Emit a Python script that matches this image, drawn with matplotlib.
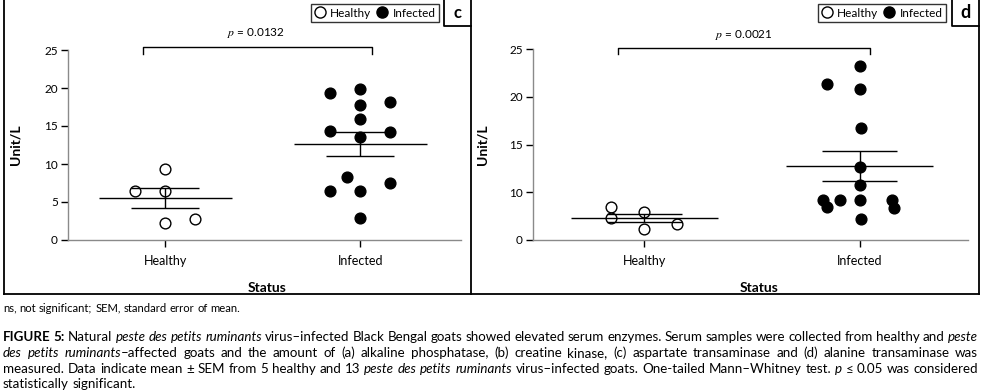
import matplotlib
matplotlib.use("Agg")
import matplotlib.pyplot as plt
from matplotlib.lines import Line2D
import numpy as np

plt.rcParams['font.family'] = ['Lato', 'DejaVu Sans']
plt.rcParams['mathtext.fontset'] = 'stix'

W, H = 991, 392

groups = ["Healthy", "Infected"]

# (c) aspartate transaminase, Unit/L
c_healthy = [9.4, 6.4, 6.5, 2.3, 2.8]
c_infected = [19.9, 19.3, 18.2, 17.8, 15.9, 14.4, 14.2, 13.6, 8.3, 7.5, 6.4, 6.4, 2.9]
c_pvalue = "0.0132"
c_yticks = [0, 5, 10, 15, 20, 25]
c_yticklabels = ["0", "5", "10", "15", "20", "25"]

# (d) alanine transaminase, Unit/L (axis starts at 5 but is labelled 0)
d_healthy = [8.5, 7.3, 7.9, 6.1, 6.7]
d_infected = [23.2, 21.3, 20.8, 16.7, 12.6, 10.8, 9.2, 8.5, 9.2, 9.2, 9.2, 8.4, 7.2]
d_pvalue = "0.0021"
d_yticks = [5, 10, 15, 20, 25]
d_yticklabels = ["0", "10", "15", "20", "25"]

# column slot of each dot in the scatter (in dot spacings)
c_healthy_slot = [0, -1, 0, 0, 1]
c_infected_slot = [0, -1, 1, 0, 0, -1, 1, 0, -0.45, 1, -1, 0, 0]
d_healthy_slot = [-1, -1, 0, 0, 1]
d_infected_slot = [0, -1, 0, 0.05, 0, 0, -1.1, -1, -0.6, 0, 1, 1.05, 0.05]

caption_note = "ns, not significant; SEM, standard error of mean."
caption_lines = [
    [("FIGURE 5:", "b"), (" Natural ", "n"), ("peste des petits ruminants", "i"),
     (" virus–infected Black Bengal goats showed elevated serum enzymes. Serum samples were collected from healthy and ", "n"),
     ("peste", "i")],
    [("des petits ruminants", "i"),
     ("–affected goats and the amount of (a) alkaline phosphatase, (b) creatine kinase, (c) aspartate transaminase and (d) alanine transaminase was", "n")],
    [("measured. Data indicate mean ± SEM from 5 healthy and 13 ", "n"), ("peste des petits ruminants", "i"),
     (" virus–infected goats. One-tailed Mann–Whitney test. ", "n"), ("p", "i"), (" ≤ 0.05 was considered", "n")],
    [("statistically significant.", "n")],
]

STEP = 0.153
SPINE = '#8a8a8a'


def px_axes(x0, y0, x1, y1):
    return [x0 / W, 1 - y1 / H, (x1 - x0) / W, (y1 - y0) / H]


def panel(ax, healthy, infected, slot_h, slot_i, pvalue, xlim, ylim, yticks, yticklabels,
          bracket, ptext_xy, ylabel_x, xlabel_x):
    for i, (vals, slots) in enumerate([(healthy, slot_h), (infected, slot_i)]):
        vals = np.asarray(vals, dtype=float)
        x = i + STEP * np.asarray(slots)
        face = 'white' if i == 0 else 'black'
        ax.scatter(x, vals, s=60, facecolor=face, edgecolor='black', linewidth=1.0, zorder=3, clip_on=False)
        m = vals.mean()
        se = vals.std(ddof=1) / np.sqrt(len(vals))
        ax.hlines(m, i - 0.34, i + 0.34, color='black', lw=1.0, zorder=4)
        ax.hlines([m - se, m + se], i - 0.175, i + 0.175, color='black', lw=1.0, zorder=4)
        ax.vlines(i, m - se, m + se, color='black', lw=1.0, zorder=4)

    ax.set_xlim(*xlim)
    ax.set_ylim(*ylim)
    ax.set_xticks([0, 1])
    ax.set_xticklabels(groups, fontsize=9)
    ax.set_yticks(yticks)
    ax.set_yticklabels(yticklabels, fontsize=8.5)
    for s in ['top', 'right']:
        ax.spines[s].set_visible(False)
    for s in ['left', 'bottom']:
        ax.spines[s].set_color(SPINE)
        ax.spines[s].set_linewidth(1.0)
    ax.tick_params(axis='y', length=5, width=1, color='black', pad=2.5)
    ax.tick_params(axis='x', length=5, width=1, color='black', pad=6)
    ax.set_ylabel("Unit/L", fontsize=10, fontweight='bold')
    ax.yaxis.set_label_coords(ylabel_x, 0.5)
    ax.set_xlabel("Status", fontsize=10, fontweight='bold')
    ax.xaxis.set_label_coords(xlabel_x, -0.22)

    x0, x1, y_lo, y_hi = bracket
    ax.plot([x0, x0, x1, x1], [y_lo, y_hi, y_hi, y_lo], color='black', lw=1.0, clip_on=False)
    ax.text(ptext_xy[0], ptext_xy[1], r"$p$ = " + pvalue, ha='center', va='center',
            fontsize=8.5, clip_on=False)


fig = plt.figure(figsize=(W / 100, H / 100), dpi=100)

ax_c = fig.add_axes(px_axes(68.3, 50, 461, 240))
panel(ax_c, c_healthy, c_infected, c_healthy_slot, c_infected_slot, c_pvalue,
      (-0.497, 1.516), (0, 25), c_yticks, c_yticklabels,
      (-0.116, 1.06, 24.47, 25.36), (0.467, 27.2), -0.118, 0.506)

ax_d = fig.add_axes(px_axes(533.3, 49, 968, 240))
panel(ax_d, d_healthy, d_infected, d_healthy_slot, d_infected_slot, d_pvalue,
      (-0.516, 1.504), (5, 25), d_yticks, d_yticklabels,
      (-0.121, 1.05, 24.48, 25.07), (0.46, 26.47), -0.104, 0.519)

# legends
handles = [Line2D([], [], ls='none', marker='o', ms=8, mfc='white', mec='black', mew=1.0),
           Line2D([], [], ls='none', marker='o', ms=8, mfc='black', mec='black', mew=1.0)]
for ax, right in [(ax_c, 439), (ax_d, 946)]:
    leg = ax.legend(handles, groups, ncol=2, loc='upper right',
                    bbox_to_anchor=(right / W, 1 - 4 / H), bbox_transform=fig.transFigure,
                    frameon=True, fancybox=False, edgecolor='black', fontsize=8.5,
                    handlelength=0.9, handletextpad=0.4, columnspacing=0.5,
                    borderpad=0.3, borderaxespad=0)
    leg.get_frame().set_linewidth(1.0)


# panel frames
def fline(xs, ys, lw=1.3):
    fig.add_artist(Line2D([x / W for x in xs], [1 - y / H for y in ys],
                          transform=fig.transFigure, color='black', lw=lw))


fline([4, 4], [0, 294])
fline([4, 979], [294, 294])
fline([471, 471], [0, 294])
fline([979, 979], [0, 294])
fline([444, 444, 471], [0, 26, 26])
fline([952, 952, 979], [0, 26, 26])
fig.text(457.5 / W, 1 - 13 / H, "c", ha='center', va='center', fontsize=12, fontweight='bold')
fig.text(965.5 / W, 1 - 13 / H, "d", ha='center', va='center', fontsize=13, fontweight='bold')

# caption
STYLES = {'n': {}, 'i': {'fontstyle': 'italic'}, 'b': {'fontweight': 'bold'}}
renderer = fig.canvas.get_renderer()


def split_words(pieces):
    words = [[]]
    for txt, st in pieces:
        parts = txt.split(' ')
        for k, part in enumerate(parts):
            if k > 0:
                words.append([])
            if part:
                words[-1].append((part, st))
    return [w for w in words if w]


def text_width(s, size, st='n'):
    t = fig.text(0, 0, s, fontsize=size, **STYLES[st])
    wd = t.get_window_extent(renderer).width
    t.remove()
    return wd


def space_width(size):
    return text_width("x x", size) - text_width("xx", size)


def natural_width(pieces, size):
    words = split_words(pieces)
    tot = sum(text_width(p, size, st) for w in words for p, st in w)
    return tot + space_width(size) * (len(words) - 1)


def fit_size(pieces, target, size=8.0):
    for _ in range(3):
        size = size * target / natural_width(pieces, size)
    return size


def caption_line(pieces, ybase, x_left, x_right, size, justify):
    words = split_words(pieces)
    objs = []
    widths = []
    for w in words:
        row = []
        tot = 0
        for part, st in w:
            t = fig.text(0, 1 - ybase / H, part, fontsize=size, va='baseline', ha='left', **STYLES[st])
            wd = t.get_window_extent(renderer).width
            row.append((t, wd))
            tot += wd
        objs.append(row)
        widths.append(tot)
    if justify and len(words) > 1:
        gap = (x_right - x_left - sum(widths)) / (len(words) - 1)
    else:
        gap = space_width(size)
    x = x_left
    for row, tot in zip(objs, widths):
        xx = x
        for t, wd in row:
            t.set_x(xx / W)
            xx += wd
        x += tot + gap


X_LEFT, X_RIGHT = 3, 978
note_size = fit_size([(caption_note, 'n')], 242)
caption_line([(caption_note, 'n')], 311.5, X_LEFT, X_RIGHT, note_size, justify=False)

cap_size = min(fit_size(caption_lines[0], X_RIGHT - X_LEFT),
               fit_size(caption_lines[2], X_RIGHT - X_LEFT))
baselines = [340.7, 356.7, 372.7, 388.3]
for k, (pieces, yb) in enumerate(zip(caption_lines, baselines)):
    caption_line(pieces, yb, X_LEFT, X_RIGHT, cap_size, justify=(k < len(caption_lines) - 1))

fig.savefig("out.png", dpi=100)
